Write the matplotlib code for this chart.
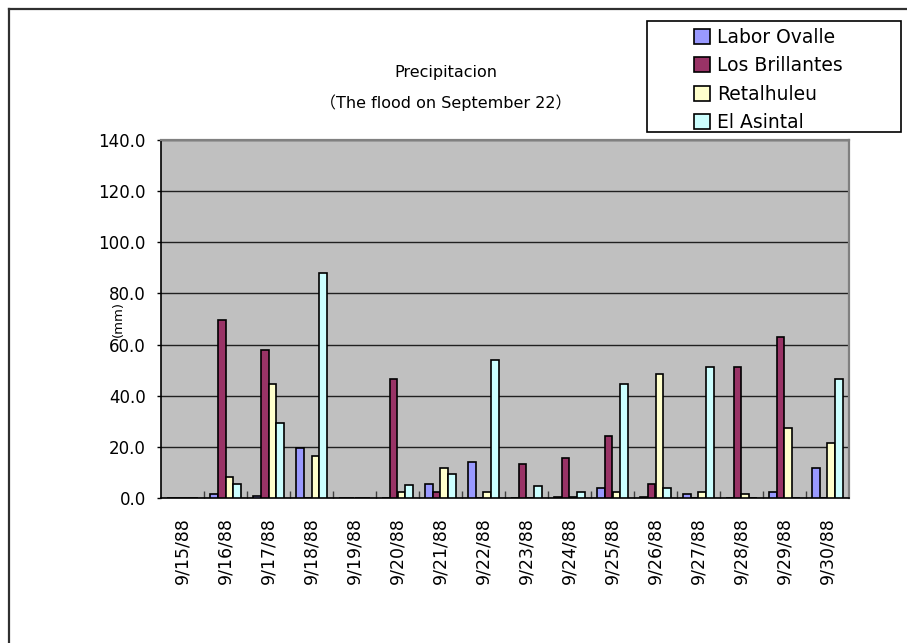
import matplotlib
matplotlib.use("Agg")
import matplotlib.pyplot as plt
from matplotlib.patches import Rectangle
from matplotlib.lines import Line2D
from matplotlib.ticker import FixedLocator, FuncFormatter
import numpy as np

# Daily precipitation (mm), 15-30 September 1988
dates = ["9/15/88", "9/16/88", "9/17/88", "9/18/88", "9/19/88", "9/20/88",
         "9/21/88", "9/22/88", "9/23/88", "9/24/88", "9/25/88", "9/26/88",
         "9/27/88", "9/28/88", "9/29/88", "9/30/88"]
labor_ovalle   = [0, 1.6, 0.9, 19.4, 0, 0, 5.5, 13.9, 0, 0.5, 3.9, 0.5, 1.6, 0, 2.2, 11.6]
los_brillantes = [0, 69.5, 57.9, 0, 0, 46.7, 2.2, 0, 13.4, 15.5, 24.3, 5.5, 0, 51.4, 63.1, 0]
retalhuleu     = [0, 8.4, 44.4, 16.3, 0, 2.2, 11.6, 2.2, 0, 0.5, 2.2, 48.4, 2.2, 1.6, 27.2, 21.7]
el_asintal     = [0, 5.5, 29.5, 88.1, 0, 5.2, 9.4, 54.0, 4.5, 2.2, 44.5, 3.9, 51.4, 0, 0, 46.7]
series_names = ["Labor Ovalle", "Los Brillantes", "Retalhuleu", "El Asintal"]
y_ticks = [0, 20, 40, 60, 80, 100, 120, 140]

series = [labor_ovalle, los_brillantes, retalhuleu, el_asintal]
colors = ["#9999FF", "#993366", "#FFFFCC", "#CCFFFF"]

W, H = 907, 643
fig = plt.figure(figsize=(W / 100, H / 100), dpi=100)
fig.patch.set_facecolor("white")

def fx(px):
    return px / W

def fy(py):
    return 1 - py / H

# chart-area border (left and top edges)
fig.add_artist(Line2D([fx(9), fx(9)], [fy(9), 0], color="#303030", lw=1.6,
                      transform=fig.transFigure))
fig.add_artist(Line2D([fx(9), 1], [fy(9), fy(9)], color="#303030", lw=1.6,
                      transform=fig.transFigure))

left, right, top, bottom = 161, 849, 140, 498
ax = fig.add_axes([fx(left), fy(bottom), fx(right) - fx(left), fy(top) - fy(bottom)])
ax.set_facecolor("#C0C0C0")

n = len(dates)
x = np.arange(n)
bw = 1 / 5.5
handles = []
for i, (vals, c) in enumerate(zip(series, colors)):
    b = ax.bar(x + (i - 1.5) * bw, vals, width=bw, color=c, edgecolor="black",
               linewidth=1.2, zorder=3)
    handles.append(b)

ax.set_xlim(-0.5, n - 0.5)
ax.set_ylim(0, 140)
ax.yaxis.set_major_locator(FixedLocator(y_ticks))
ax.yaxis.set_major_formatter(FuncFormatter(lambda v, p: f"{v:.1f}"))
ax.grid(axis="y", color="#202020", lw=1.0, zorder=1)
ax.set_axisbelow(True)

ax.set_xticks(x)
ax.set_xticklabels(dates, rotation=90, va="top", ha="center")
ax.set_xticks(np.arange(0.5, n - 1, 1), minor=True)
ax.tick_params(axis="x", which="major", length=0, pad=14, labelsize=12.5)
ax.tick_params(axis="x", which="minor", direction="in", length=5, width=1,
               color="#404040")
ax.tick_params(axis="y", which="major", direction="out", length=3, width=1,
               pad=8, labelsize=12)
for lab in ax.get_xticklabels() + ax.get_yticklabels():
    lab.set_family(["DejaVu Sans"])

for s in ["top", "right"]:
    ax.spines[s].set_color("#808080")
    ax.spines[s].set_linewidth(1.6)
for s in ["left", "bottom"]:
    ax.spines[s].set_color("black")
    ax.spines[s].set_linewidth(1.2)

fam = ["DejaVu Sans", "Noto Sans CJK JP"]
ax.set_ylabel("(mm)", family=fam, fontsize=9.5)
ax.yaxis.set_label_coords((125 - left) / (right - left), 0.5)

fig.text(fx(446), fy(73), "Precipitacion", ha="center", va="center",
         family=fam, fontsize=11.5)
fig.text(fx(446), fy(103), "（The flood on September 22）", ha="center",
         va="center", family=fam, fontsize=11.5)

# legend box
fig.add_artist(Rectangle((fx(647), fy(132)), fx(901) - fx(647), fy(21) - fy(132),
                         transform=fig.transFigure, facecolor="white",
                         edgecolor="black", lw=1.2, zorder=5))
leg = fig.legend(handles, series_names, loc="upper left",
                 bbox_to_anchor=(fx(694), fy(28)), frameon=False,
                 borderpad=0, borderaxespad=0, handlelength=0.85,
                 handleheight=0.85, handletextpad=0.4, labelspacing=0.5,
                 prop={"family": fam, "size": 13.5})
leg.set_zorder(6)

fig.savefig("out.png", dpi=100)
